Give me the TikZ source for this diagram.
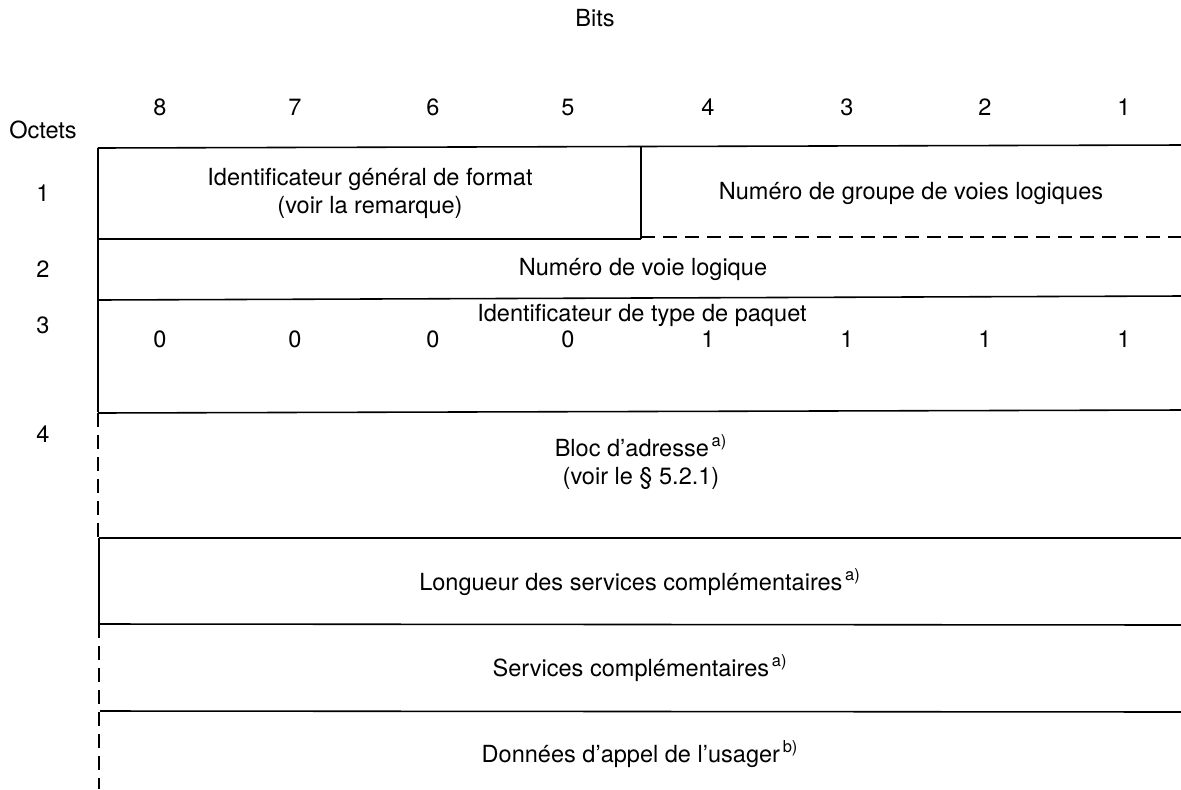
\documentclass[tikz,border=0pt]{standalone}
\usepackage{fontspec}
\setmainfont{TeX Gyre Heros}
\usepackage{tikz}
\tikzset{lbl/.style={font=\fontsize{13.4}{16}\selectfont},
  row/.style={line width=0.9pt},
  gap/.style={line width=0.9pt,dash pattern=on 8pt off 4.5pt}}
\newcommand{\rem}[1]{\textsuperscript{\,#1)}}

\begin{document}
\begin{tikzpicture}[x=0.02cm,y=-0.02cm]
      \useasboundingbox (0,0) rectangle (1181,789);
      % frame
      \draw[row] (98,148) -- (1181,145);
      \draw[row] (98,148) -- (98,412);
      \draw[row] (641,146) -- (641,239);
      \draw[row] (98,239) -- (641,239);
      \draw[gap] (641,237) -- (1181,237);
      \draw[row] (98,300) -- (1181,296);
      \draw[row] (98,413) -- (1181,410);
      \draw[gap] (98,413) -- (98,538);
      \draw[row] (99,538) -- (1181,538);
      \draw[row] (99,538) -- (99,624);
      \draw[row] (99,624) -- (1181,625);
      \draw[gap] (99,624) -- (99,789);
      \draw[row] (100,711) -- (1181,712);
      % headings
      \node[lbl] (bits) at (595,18) {Bits};
      \node[lbl] (octets) at (43,130) {Octets};
      \foreach \b/\x in {8/160,7/295,6/433,5/568,4/708,3/847,2/985,1/1124}
        \node[lbl] (b\b) at (\x,107) {\b};
      \foreach \o/\y in {1/193,2/269,3/325,4/434}
        \node[lbl] (o\o) at (43,\y) {\o};
      % fields
      \node[lbl,align=center] (gfi) at (370,193)
        {Identificateur général de format\\(voir la remarque)};
      \node[lbl] (lcg) at (911,193) {Numéro de groupe de voies logiques};
      \node[lbl] (lcn) at (643,269) {Numéro de voie logique};
      \node[lbl] (pti) at (642,315) {Identificateur de type de paquet};
      \foreach \v/\x [count=\i] in {0/160,0/295,0/433,0/568,1/708,1/847,1/985,1/1124}
        \node[lbl] (v\i) at (\x,339) {\v};
      \node[lbl,align=center] (addr) at (641,462)
        {Bloc d'adresse\rem{a}\\(voir le § 5.2.1)};
      \node[lbl] (fl) at (640,582) {Longueur des services complémentaires\rem{a}};
      \node[lbl] (fac) at (640,668) {Services complémentaires\rem{a}};
      \node[lbl] (ud) at (640,754) {Données d'appel de l'usager\rem{b}};
    \end{tikzpicture}
\end{document}
